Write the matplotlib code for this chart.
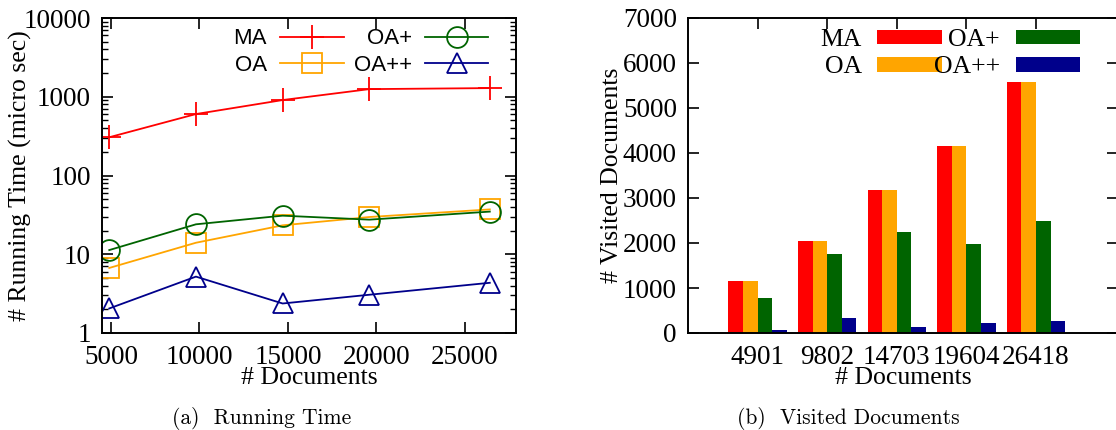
import numpy as np
import matplotlib.pyplot as plt
from matplotlib.ticker import LogLocator, NullFormatter

# ---- data ----
docs = [4901, 9802, 14703, 19604, 26418]
doc_labels = ['4901', '9802', '14703', '19604', '26418']

time_ma = [306, 603, 908, 1250, 1288]
time_oa = [6.7, 14.0, 23.3, 29.7, 37.1]
time_oap = [11.3, 24.0, 30.9, 27.5, 34.8]
time_oapp = [2.05, 5.2, 2.37, 3.06, 4.34]

vis_ma = [1165, 2043, 3186, 4159, 5583]
vis_oa = [1165, 2043, 3186, 4159, 5583]
vis_oap = [783, 1748, 2242, 1969, 2485]
vis_oapp = [66, 339, 140, 214, 273]

names = ['MA', 'OA', 'OA+', 'OA++']
colors = ['#ff0000', '#ffa500', '#006400', '#00008b']

serif = ['Liberation Serif', 'DejaVu Serif']
plt.rcParams['font.family'] = serif
plt.rcParams['font.size'] = 19.5
plt.rcParams['axes.linewidth'] = 1.4

fig = plt.figure(figsize=(11.16, 4.30), dpi=100)

# ---- (a) running time ----
ax1 = fig.add_axes([102 / 1116, 1 - 333 / 430, 414 / 1116, 315 / 430])
markers = ['+', 's', 'o', '^']
series = [time_ma, time_oa, time_oap, time_oapp]
for name, col, mk, ys in zip(names, colors, markers, series):
    ms = 17 if mk == '+' else 15
    ax1.plot(docs, ys, color=col, marker=mk, markersize=ms, markerfacecolor='none',
             markeredgecolor=col, markeredgewidth=1.3, linewidth=1.3, label=name)
ax1.set_yscale('log')
ax1.set_ylim(1, 10000)
ax1.set_xlim(4490, 27900)
ax1.set_xticks([5000, 10000, 15000, 20000, 25000])
ax1.set_yticks([1, 10, 100, 1000, 10000])
ax1.set_yticklabels(['1', '10', '100', '1000', '10000'])
ax1.yaxis.set_minor_locator(LogLocator(base=10, subs=np.arange(2, 10)))
ax1.yaxis.set_minor_formatter(NullFormatter())
ax1.tick_params(which='both', direction='in', top=True, right=True, labelsize=19.5)
ax1.tick_params(which='major', length=8, width=1.2)
ax1.tick_params(which='minor', length=4, width=1.0)
ax1.tick_params(axis='x', pad=9)
ax1.tick_params(axis='y', pad=8)
ax1.set_xlabel('# Documents', fontsize=18.5)
ax1.xaxis.set_label_coords(0.5, -0.108)
ax1.set_ylabel('# Running Time (micro sec)', fontsize=18.5, va='center')
ax1.yaxis.set_label_coords(-0.198, 0.5)
h, l = ax1.get_legend_handles_labels()
ax1.legend(h, l, ncol=2, loc='upper right', bbox_to_anchor=(0.955, 0.995),
           markerfirst=False, frameon=False, handlelength=2.85,
           prop={'family': 'Liberation Sans', 'size': 16},
           labelspacing=0.25, columnspacing=0.45, handletextpad=0.6,
           borderaxespad=0)

# ---- (b) visited documents ----
ax2 = fig.add_axes([688 / 1116, 1 - 333 / 430, 430 / 1116, 315 / 430])
pos = np.arange(len(docs))
w = 0.21
vis = [vis_ma, vis_oa, vis_oap, vis_oapp]
for i, (name, col, ys) in enumerate(zip(names, colors, vis)):
    ax2.bar(pos + (i - 1.5) * w, ys, width=w, color=col, label=name)
ax2.set_xlim(-1, 5.18)
ax2.set_ylim(0, 7000)
ax2.set_xticks(pos)
ax2.set_xticklabels(doc_labels)
ax2.set_yticks(range(0, 7001, 1000))
ax2.tick_params(direction='in', top=True, right=True, length=8, width=1.2, labelsize=19.5)
ax2.tick_params(axis='x', bottom=False, pad=9)
ax2.tick_params(axis='y', pad=8)
ax2.set_xlabel('# Documents', fontsize=18.5)
ax2.xaxis.set_label_coords(0.5, -0.108)
ax2.set_ylabel('# Visited Documents', fontsize=18.5, va='center')
ax2.yaxis.set_label_coords(-0.177, 0.5)
ax2.legend(ncol=2, loc='upper right', bbox_to_anchor=(0.935, 0.997),
           markerfirst=False, frameon=False, handlelength=2.5, handleheight=0.5,
           prop={'size': 18.5}, labelspacing=0.2, columnspacing=-0.3,
           handletextpad=0.6, borderaxespad=0)

# ---- captions ----
cap = ['cmr10', 'DejaVu Serif']
fig.text(262 / 1116, 1 - 418 / 430, '(a)  Running Time', ha='center', va='center',
         fontsize=15.5, family=cap)
fig.text(848 / 1116, 1 - 418 / 430, '(b)  Visited Documents', ha='center', va='center',
         fontsize=15.5, family=cap)

fig.savefig('out.png', dpi=100)
